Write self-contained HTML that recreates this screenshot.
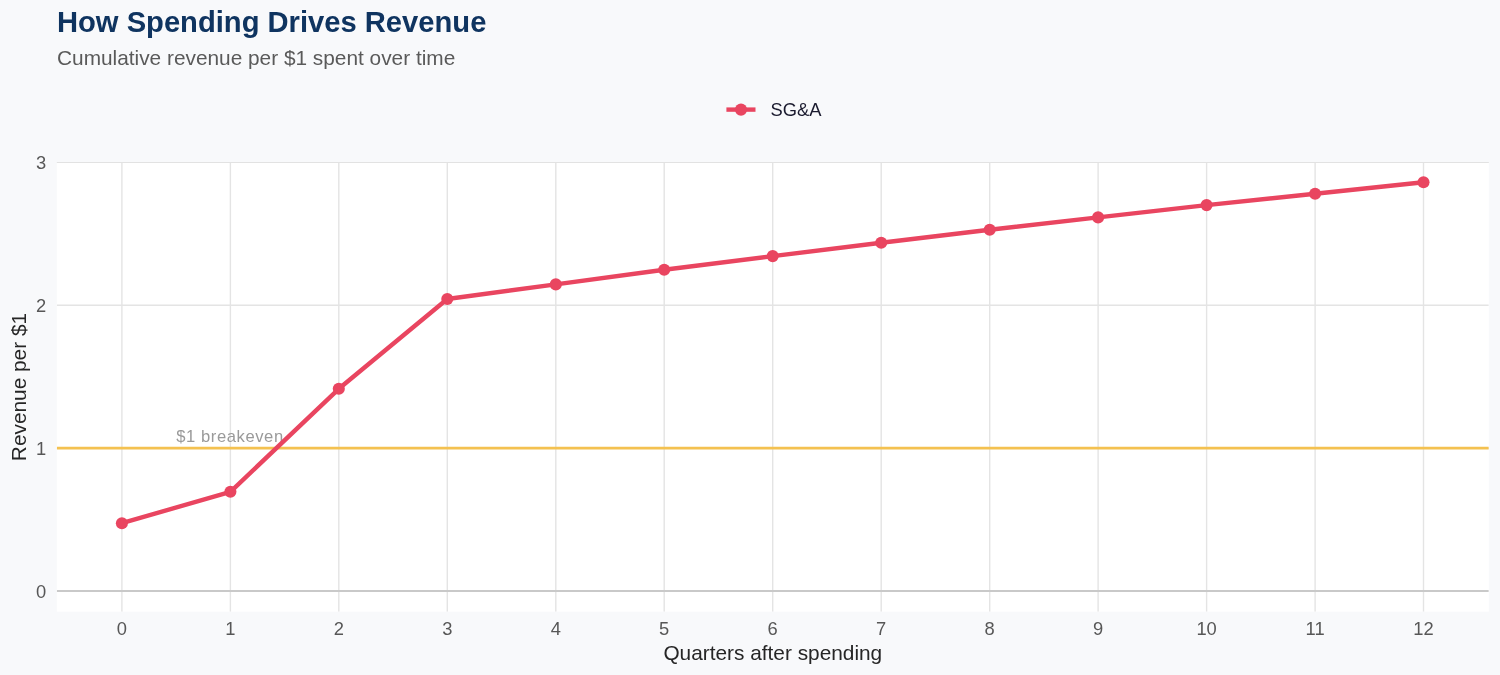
<!DOCTYPE html>
<html lang="en"><head><meta charset="utf-8"><title>How Spending Drives Revenue</title>
<style>
html,body{margin:0;padding:0;background:#F8F9FB;}
body{width:1500px;height:675px;overflow:hidden;}
svg{display:block;}
text{font-family:"Liberation Sans",Arial,sans-serif;}
</style></head><body>
<svg width="1500" height="675" viewBox="0 0 1500 675">
<rect x="0" y="0" width="1500" height="675" fill="#F8F9FB"/>
<rect x="56.8" y="163" width="1432.0" height="448.7" fill="#FFFFFF"/>
<clipPath id="pc"><rect x="56.8" y="162.4" width="1432.0" height="449.3"/></clipPath>
<rect x="56.8" y="162" width="1432.0" height="1" fill="#E2E2E2"/>
<g clip-path="url(#pc)">
<line x1="56.8" x2="1488.8" y1="448.2" y2="448.2" stroke="#E4E4E4" stroke-width="1.4"/>
<line x1="56.8" x2="1488.8" y1="305.25" y2="305.25" stroke="#E4E4E4" stroke-width="1.4"/>
<line x1="121.9" x2="121.9" y1="162.4" y2="611.7" stroke="#E4E4E4" stroke-width="1.4"/>
<line x1="230.4" x2="230.4" y1="162.4" y2="611.7" stroke="#E4E4E4" stroke-width="1.4"/>
<line x1="338.8" x2="338.8" y1="162.4" y2="611.7" stroke="#E4E4E4" stroke-width="1.4"/>
<line x1="447.3" x2="447.3" y1="162.4" y2="611.7" stroke="#E4E4E4" stroke-width="1.4"/>
<line x1="555.8" x2="555.8" y1="162.4" y2="611.7" stroke="#E4E4E4" stroke-width="1.4"/>
<line x1="664.2" x2="664.2" y1="162.4" y2="611.7" stroke="#E4E4E4" stroke-width="1.4"/>
<line x1="772.7" x2="772.7" y1="162.4" y2="611.7" stroke="#E4E4E4" stroke-width="1.4"/>
<line x1="881.2" x2="881.2" y1="162.4" y2="611.7" stroke="#E4E4E4" stroke-width="1.4"/>
<line x1="989.7" x2="989.7" y1="162.4" y2="611.7" stroke="#E4E4E4" stroke-width="1.4"/>
<line x1="1098.1" x2="1098.1" y1="162.4" y2="611.7" stroke="#E4E4E4" stroke-width="1.4"/>
<line x1="1206.6" x2="1206.6" y1="162.4" y2="611.7" stroke="#E4E4E4" stroke-width="1.4"/>
<line x1="1315.1" x2="1315.1" y1="162.4" y2="611.7" stroke="#E4E4E4" stroke-width="1.4"/>
<line x1="1423.5" x2="1423.5" y1="162.4" y2="611.7" stroke="#E4E4E4" stroke-width="1.4"/>
<line x1="56.8" x2="1488.8" y1="591.0" y2="591.0" stroke="#C9C9C9" stroke-width="1.9"/>
<text x="176.2" y="442" font-size="16.6" letter-spacing="0.58" fill="#9A9A9A">$1 breakeven</text>
<line x1="56.8" x2="1488.8" y1="448.2" y2="448.2" stroke="#F4C150" stroke-width="2.7"/>
<polyline points="121.9,523.2 230.4,491.8 338.8,388.8 447.3,299.0 555.8,284.4 664.2,269.8 772.7,256.1 881.2,242.8 989.7,229.8 1098.1,217.4 1206.6,205.1 1315.1,193.7 1423.5,182.3" fill="none" stroke="#E94560" stroke-width="4.4" stroke-linejoin="round" stroke-linecap="butt"/>
<circle cx="121.9" cy="523.2" r="6.05" fill="#E94560"/>
<circle cx="230.4" cy="491.8" r="6.05" fill="#E94560"/>
<circle cx="338.8" cy="388.8" r="6.05" fill="#E94560"/>
<circle cx="447.3" cy="299.0" r="6.05" fill="#E94560"/>
<circle cx="555.8" cy="284.4" r="6.05" fill="#E94560"/>
<circle cx="664.2" cy="269.8" r="6.05" fill="#E94560"/>
<circle cx="772.7" cy="256.1" r="6.05" fill="#E94560"/>
<circle cx="881.2" cy="242.8" r="6.05" fill="#E94560"/>
<circle cx="989.7" cy="229.8" r="6.05" fill="#E94560"/>
<circle cx="1098.1" cy="217.4" r="6.05" fill="#E94560"/>
<circle cx="1206.6" cy="205.1" r="6.05" fill="#E94560"/>
<circle cx="1315.1" cy="193.7" r="6.05" fill="#E94560"/>
<circle cx="1423.5" cy="182.3" r="6.05" fill="#E94560"/>
</g>
<text x="57" y="32" font-size="29.17" font-weight="700" fill="#0F3460">How Spending Drives Revenue</text>
<text x="57" y="65" font-size="20.83" fill="#5A5A5A">Cumulative revenue per $1 spent over time</text>
<line x1="726.4" x2="755.5" y1="109.6" y2="109.6" stroke="#E94560" stroke-width="4.4"/>
<circle cx="741" cy="109.6" r="6.05" fill="#E94560"/>
<text x="770.5" y="116.2" font-size="18.33" fill="#1A1A2E">SG&amp;A</text>
<text x="46.2" y="597.6" font-size="18.33" text-anchor="end" fill="#575757">0</text>
<text x="46.2" y="454.8" font-size="18.33" text-anchor="end" fill="#575757">1</text>
<text x="46.2" y="311.9" font-size="18.33" text-anchor="end" fill="#575757">2</text>
<text x="46.2" y="169.0" font-size="18.33" text-anchor="end" fill="#575757">3</text>
<text x="121.9" y="635" font-size="18.33" text-anchor="middle" fill="#575757">0</text>
<text x="230.4" y="635" font-size="18.33" text-anchor="middle" fill="#575757">1</text>
<text x="338.8" y="635" font-size="18.33" text-anchor="middle" fill="#575757">2</text>
<text x="447.3" y="635" font-size="18.33" text-anchor="middle" fill="#575757">3</text>
<text x="555.8" y="635" font-size="18.33" text-anchor="middle" fill="#575757">4</text>
<text x="664.2" y="635" font-size="18.33" text-anchor="middle" fill="#575757">5</text>
<text x="772.7" y="635" font-size="18.33" text-anchor="middle" fill="#575757">6</text>
<text x="881.2" y="635" font-size="18.33" text-anchor="middle" fill="#575757">7</text>
<text x="989.7" y="635" font-size="18.33" text-anchor="middle" fill="#575757">8</text>
<text x="1098.1" y="635" font-size="18.33" text-anchor="middle" fill="#575757">9</text>
<text x="1206.6" y="635" font-size="18.33" text-anchor="middle" fill="#575757">10</text>
<text x="1315.1" y="635" font-size="18.33" text-anchor="middle" fill="#575757">11</text>
<text x="1423.5" y="635" font-size="18.33" text-anchor="middle" fill="#575757">12</text>
<text x="772.8" y="660" font-size="20.83" text-anchor="middle" fill="#262626">Quarters after spending</text>
<text transform="translate(26,387.05) rotate(-90)" font-size="20.83" text-anchor="middle" fill="#262626">Revenue per $1</text>
</svg></body></html>
